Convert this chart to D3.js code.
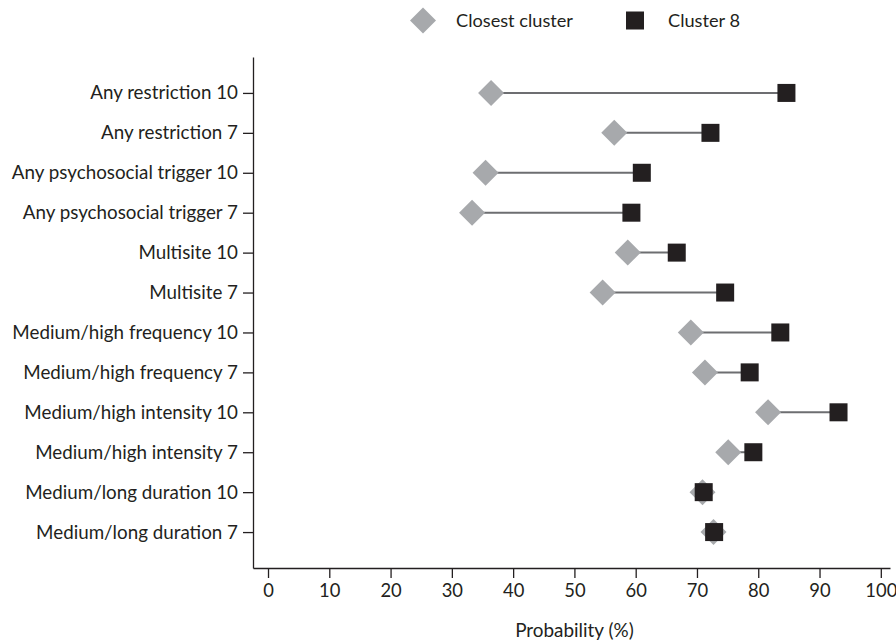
<!DOCTYPE html>
<html>
<head>
<meta charset="utf-8">
<script src="https://cdn.jsdelivr.net/npm/d3@7"></script>
<style>
  html, body { margin: 0; padding: 0; background: #fff; }
  svg { display: block; }
  text { font-family: Lato, "Open Sans", sans-serif; fill: #231f20; }
</style>
</head>
<body>
<svg id="chart" width="896" height="642"></svg>
<script>
const categories = [
  "Any restriction 10",
  "Any restriction 7",
  "Any psychosocial trigger 10",
  "Any psychosocial trigger 7",
  "Multisite 10",
  "Multisite 7",
  "Medium/high frequency 10",
  "Medium/high frequency 7",
  "Medium/high intensity 10",
  "Medium/high intensity 7",
  "Medium/long duration 10",
  "Medium/long duration 7"
];
const closestCluster = [36.4, 56.5, 35.5, 33.3, 58.7, 54.6, 69.0, 71.3, 81.6, 75.1, 70.9, 72.7];
const cluster8 =       [84.6, 72.2, 61.0, 59.3, 66.7, 74.6, 83.6, 78.6, 93.1, 79.2, 71.1, 72.8];
const xTicks = [0, 10, 20, 30, 40, 50, 60, 70, 80, 90, 100];
const seriesNames = ["Closest cluster", "Cluster 8"];

const colDiamond = "#a7a9ac", colSquare = "#231f20", colLine = "#6d6e71", colAxis = "#231f20";
const fsY = 18.8, fsX = 18.4, fsLeg = 18.2, fsTitle = 18.9;

const svg = d3.select("#chart");
const x = d3.scaleLinear().domain([-2.45, 101.5]).range([253, 890]);
const y = d3.scalePoint().domain(categories).range([57, 568]).padding(0.9);

// axes
const xAxis = svg.append("g").attr("transform", "translate(0,568)")
  .call(d3.axisBottom(x).tickValues(xTicks).tickSize(10).tickSizeOuter(0).tickPadding(6));
const yAxis = svg.append("g").attr("transform", "translate(253,0)")
  .call(d3.axisLeft(y).tickSize(10).tickSizeOuter(0).tickPadding(5));
[xAxis, yAxis].forEach(g => {
  g.selectAll("path.domain").attr("stroke", colAxis).attr("stroke-width", 1.3);
  g.selectAll(".tick line").attr("stroke", colAxis).attr("stroke-width", 1.3);
  g.selectAll(".tick text").attr("font-family", "Lato, sans-serif").attr("fill", "#231f20");
});
xAxis.selectAll(".tick text").attr("font-size", fsX);
yAxis.selectAll(".tick text").attr("font-size", fsY);

const rows = categories.map((c, i) => ({ c, a: closestCluster[i], b: cluster8[i] }));

// connecting lines
svg.append("g").selectAll("line").data(rows).join("line")
  .attr("x1", d => x(d.a)).attr("x2", d => x(d.b))
  .attr("y1", d => y(d.c)).attr("y2", d => y(d.c))
  .attr("stroke", colLine).attr("stroke-width", 2);

const diamond = d3.symbol().type(d3.symbolSquare).size(338);
// diamonds
svg.append("g").selectAll("path").data(rows).join("path")
  .attr("d", diamond)
  .attr("transform", d => `translate(${x(d.a)},${y(d.c)}) rotate(45)`)
  .attr("fill", colDiamond);
// squares
const sq = 18;
svg.append("g").selectAll("rect").data(rows).join("rect")
  .attr("x", d => x(d.b) - sq / 2).attr("y", d => y(d.c) - sq / 2)
  .attr("width", sq).attr("height", sq)
  .attr("fill", colSquare);

// axis title
svg.append("text").attr("x", x(50)).attr("y", 637).attr("text-anchor", "middle")
  .attr("font-size", fsTitle).text("Probability (%)");

// legend
const lg = svg.append("g");
lg.append("path").attr("d", diamond).attr("transform", "translate(423,20.5) rotate(45)").attr("fill", colDiamond);
lg.append("text").attr("x", 456).attr("y", 27).attr("font-size", fsLeg).text(seriesNames[0]);
lg.append("rect").attr("x", 626).attr("y", 11.5).attr("width", sq).attr("height", sq).attr("fill", colSquare);
lg.append("text").attr("x", 668).attr("y", 27).attr("font-size", fsLeg).text(seriesNames[1]);
</script>
</body>
</html>
